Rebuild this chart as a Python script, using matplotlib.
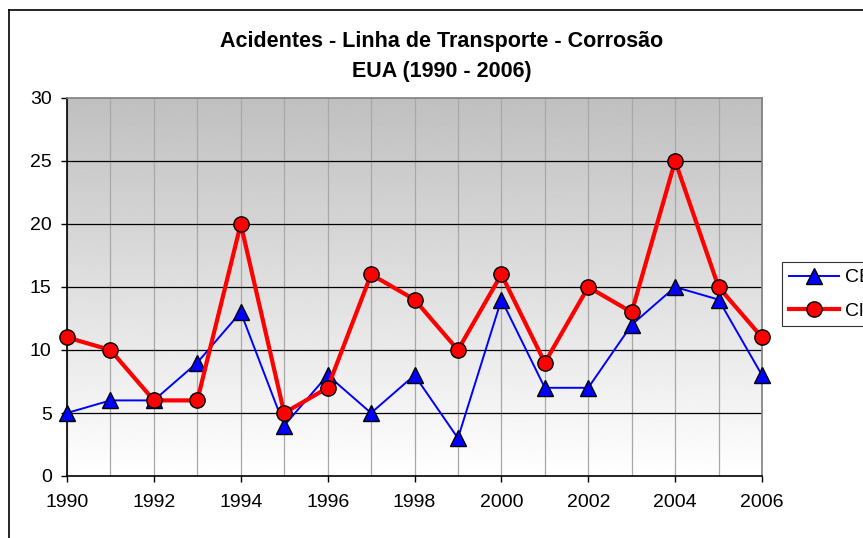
import matplotlib
matplotlib.use("Agg")
import matplotlib.pyplot as plt
import numpy as np
from matplotlib.lines import Line2D

plt.rcParams["font.family"] = ["Liberation Sans", "DejaVu Sans"]

# ── Data ─────────────────────────────────────────────────────────────────────
YEARS = list(range(1990, 2007))
CE = [5, 6, 6, 9, 13, 4, 8, 5, 8, 3, 14, 7, 7, 12, 15, 14, 8]
CL = [11, 10, 6, 6, 20, 5, 7, 16, 14, 10, 16, 9, 15, 13, 25, 15, 11]
LABELS = ["CE", "Cl"]
XTICKS = list(range(1990, 2007, 2))
YTICKS = list(range(0, 31, 5))

W, H = 863, 538
fig = plt.figure(figsize=(W / 100, H / 100), dpi=100)
fig.patch.set_facecolor("white")

# plot area in pixels: left 67, right 762, top 98, bottom 476
ax = fig.add_axes([67 / W, 1 - 476 / H, (762 - 67) / W, (476 - 98) / H])

# gradient background (gray at top -> white at bottom)
grad = np.linspace(0.75, 1.0, 256).reshape(-1, 1)
ax.imshow(grad, cmap="gray", vmin=0, vmax=1, aspect="auto",
          extent=(0, 1, 0, 1), transform=ax.transAxes, zorder=0)

ax.set_xlim(YEARS[0], YEARS[-1])
ax.set_ylim(0, 30)

for yr in YEARS:
    ax.axvline(yr, color="#a8a8a8", lw=0.9, zorder=1)
for yv in YTICKS[1:-1]:
    ax.axhline(yv, color="black", lw=0.9, zorder=1)

ax.plot(YEARS, CE, color="#0000ff", lw=1.4, marker="^", markersize=11,
        markerfacecolor="#0000ff", markeredgecolor="black", markeredgewidth=1,
        label=LABELS[0], zorder=3, clip_on=False)
ax.plot(YEARS, CL, color="#ff0000", lw=3, marker="o", markersize=11,
        markerfacecolor="#ff0000", markeredgecolor="black", markeredgewidth=1,
        label=LABELS[1], zorder=4, clip_on=False)

ax.set_xticks(XTICKS)
ax.set_yticks(YTICKS)
ax.tick_params(axis="both", labelsize=14, direction="out", length=4, width=1,
               color="black", pad=7)
ax.tick_params(axis="x", pad=9)
for s in ["left", "bottom"]:
    ax.spines[s].set_color("black")
    ax.spines[s].set_linewidth(1.2)
for s in ["top", "right"]:
    ax.spines[s].set_color("#808080")
    ax.spines[s].set_linewidth(1.2)

fig.text(442 / W, 1 - 41 / H, "Acidentes - Linha de Transporte - Corrosão",
         ha="center", va="center", fontsize=15.5, fontweight="bold")
fig.text(442 / W, 1 - 71 / H, "EUA (1990 - 2006)",
         ha="center", va="center", fontsize=15.5, fontweight="bold")

leg = fig.legend(loc="upper left", bbox_to_anchor=(782 / W, 1 - 262 / H),
                 fontsize=14, frameon=True, fancybox=False, edgecolor="black",
                 handlelength=2.6, borderpad=0.35, labelspacing=0.8,
                 handletextpad=0.3, borderaxespad=0)
leg.get_frame().set_linewidth(0.8)

# outer chart border (cropped on the right and bottom)
fig.add_artist(Line2D([9 / W, 9 / W], [0, 1 - 10 / H], color="black", lw=1.2,
                      transform=fig.transFigure))
fig.add_artist(Line2D([9 / W, 1], [1 - 10 / H, 1 - 10 / H], color="black",
                      lw=1.2, transform=fig.transFigure))

fig.savefig("out.png", dpi=100)
